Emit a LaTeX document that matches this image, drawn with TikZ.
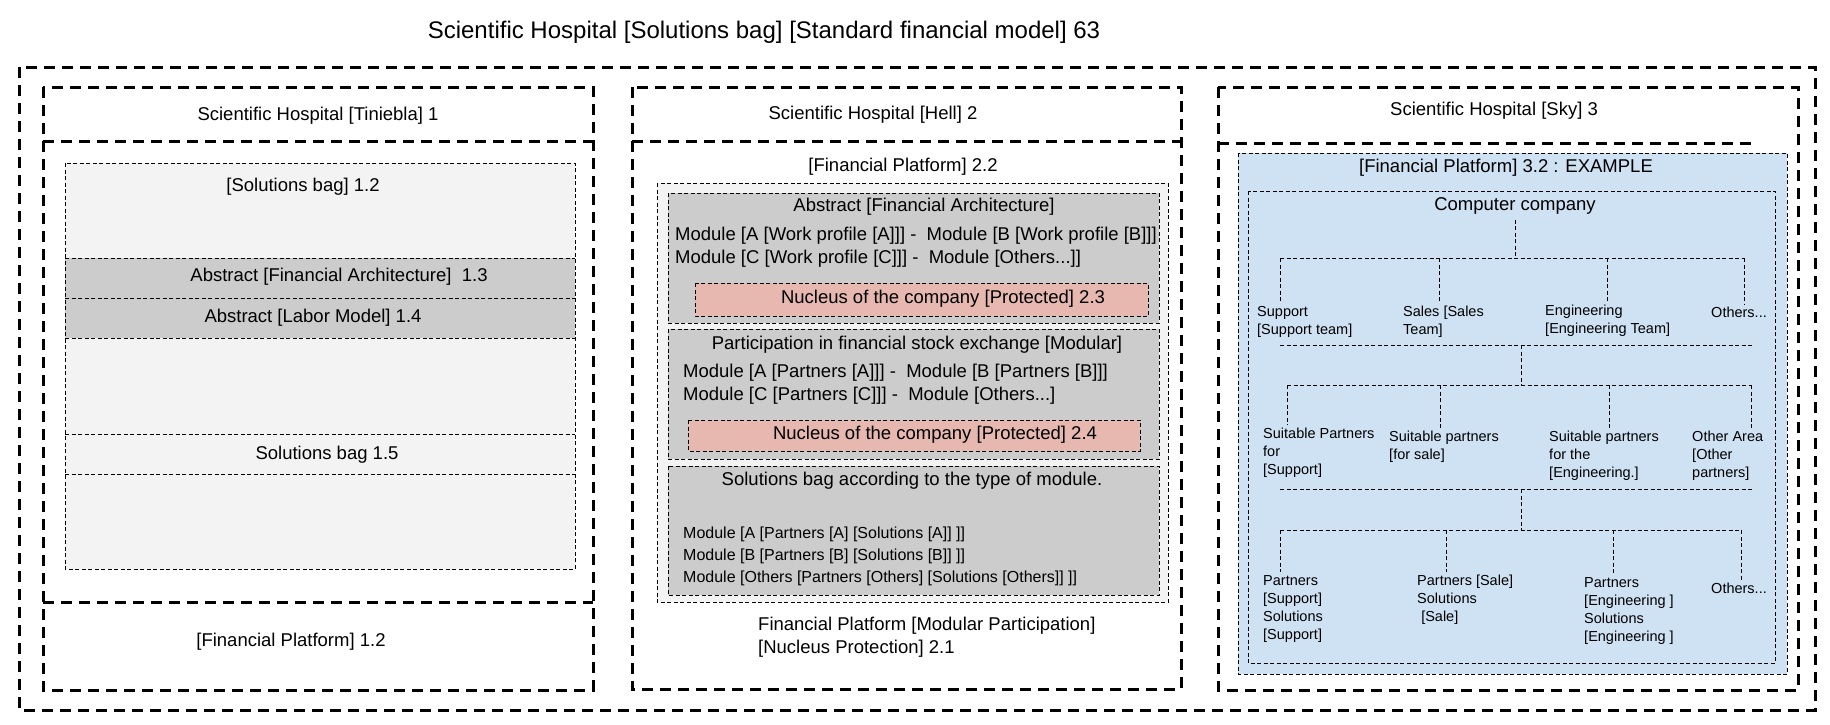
\documentclass[tikz,border=0pt]{standalone}
\usepackage{fontspec}
\setmainfont{Liberation Sans}
\usepackage{tikz}

\definecolor{lightbag}{HTML}{F3F3F3}
\definecolor{darkbag}{HTML}{CCCCCC}
\definecolor{nucleus}{HTML}{E6B8AF}
\definecolor{sky}{HTML}{CFE2F3}

\begin{document}
\begin{tikzpicture}[x=1pt, y=-1pt,
		bigbox/.style={line width=3pt, dash pattern=on 11pt off 7pt},
		thinbox/.style={line width=0.8pt, dash pattern=on 4pt off 2.5pt},
		txt/.style={inner sep=0pt, font=\fontsize{18.5}{22}\selectfont},
		headtxt/.style={inner sep=0pt, font=\fontsize{24}{28}\selectfont},
		modtext/.style={inner sep=0pt, align=left, anchor=north west, font=\fontsize{18.5}{23}\selectfont},
		soltext/.style={inner sep=0pt, align=left, anchor=north west, font=\fontsize{16}{22}\selectfont},
		orgtext/.style={inner sep=0pt, align=left, anchor=north west, font=\fontsize{14.5}{18}\selectfont}]
		
		% fix the margins
		\useasboundingbox (0,0) rectangle (1830,724);
		
		% draw title and outer frame
		\node[headtxt] (main) at (764,32) {Scientific Hospital [Solutions bag] [Standard financial model] 63};
		\draw[bigbox] (19,67) rectangle (1815,710);
		
		% draw hospital 1
		\draw[bigbox] (43,87) rectangle (593,690);
		\draw[bigbox] (43,141) -- (593,141);
		\draw[bigbox] (43,602) -- (593,602);
		\node[txt] (tiniebla) at (318,116) {Scientific Hospital [Tiniebla] 1};
		
		\fill[lightbag] (65,163) rectangle (575,569);
		\fill[darkbag] (65,258) rectangle (575,338);
		\draw[thinbox] (65,163) rectangle (575,569);
		\foreach \y in {258,298,338,434,474}
		\draw[thinbox] (65,\y) -- (575,\y);
		
		\node[txt] (bag12) at (303,187) {[Solutions bag] 1.2};
		\node[txt] (abs13) at (339,277) {Abstract [Financial Architecture]\ \ 1.3};
		\node[txt] (abs14) at (313,318) {Abstract [Labor Model] 1.4};
		\node[txt] (bag15) at (327,455) {Solutions bag 1.5};
		\node[txt] (plat12) at (291,642) {[Financial Platform] 1.2};
		
		% draw hospital 2
		\draw[bigbox] (632,87) rectangle (1181,689);
		\draw[bigbox] (632,141) -- (1181,141);
		\node[txt] (hell) at (873,115) {Scientific Hospital [Hell] 2};
		\node[txt] (plat22) at (903,167) {[Financial Platform] 2.2};
		
		\draw[thinbox, fill=lightbag] (657,183) rectangle (1168,602);
		\foreach \ya/\yb in {193/323, 329/459, 466/595}
		\draw[thinbox, fill=darkbag] (668,\ya) rectangle (1159,\yb);
		
		\node[txt] (absfin) at (924,207) {Abstract [Financial Architecture]};
		\node[modtext] (work) at (675,227) {Module [A [Work profile [A]]] -\ \ Module [B [Work profile [B]]]\\Module [C [Work profile [C]]] -\ \ Module [Others...]]};
		\draw[thinbox, fill=nucleus] (695,283) rectangle (1148,316);
		\node[txt] (nuc23) at (943,299) {Nucleus of the company [Protected] 2.3};
		
		\node[txt] (stock) at (917,345) {Participation in financial stock exchange [Modular]};
		\node[modtext] (partners) at (683,364) {Module [A [Partners [A]]] -\ \ Module [B [Partners [B]]]\\Module [C [Partners [C]]] -\ \ Module [Others...]};
		\draw[thinbox, fill=nucleus] (688,420) rectangle (1140,451);
		\node[txt] (nuc24) at (935,435) {Nucleus of the company [Protected] 2.4};
		
		\node[txt] (bytype) at (912,481) {Solutions bag according to the type of module.};
		\node[soltext] (sols) at (683,527) {Module [A [Partners [A] [Solutions [A]] ]]\\Module [B [Partners [B] [Solutions [B]] ]]\\Module [Others [Partners [Others] [Solutions [Others]] ]]};
		
		\node[modtext] (plat21) at (758,617) {Financial Platform [Modular Participation]\\{}[Nucleus Protection] 2.1};
		
		% draw hospital 3
		\draw[bigbox] (1218,87) rectangle (1798,690);
		\draw[bigbox] (1218,143) -- (1758,143);
		\node[txt] (sky) at (1494,111) {Scientific Hospital [Sky] 3};
		
		\draw[thinbox, fill=sky] (1238,153) rectangle (1787,674);
		\node[txt] (plat32) at (1506,168) {[Financial Platform] 3.2 : EXAMPLE};
		\draw[thinbox] (1248,191) rectangle (1775,663);
		\node[txt] (company) at (1515,206) {Computer company};
		
		% teams
		\node[orgtext] (support) at (1257,306) {Support\\{}[Support team]};
		\node[orgtext] (sales) at (1403,306) {Sales [Sales\\Team]};
		\node[orgtext] (engineering) at (1545,305) {Engineering\\{}[Engineering Team]};
		\node[orgtext] (others1) at (1711,307) {Others...};
		
		% suitable partners
		\node[orgtext] (suitsupport) at (1263,428) {Suitable Partners\\for\\{}[Support]};
		\node[orgtext] (suitsale) at (1389,431) {Suitable partners\\{}[for sale]};
		\node[orgtext] (suiteng) at (1549,431) {Suitable partners\\for the\\{}[Engineering.]};
		\node[orgtext] (otherarea) at (1692,431) {Other Area\\{}[Other\\partners]};
		
		% partners and solutions
		\node[orgtext] (partsupport) at (1263,575) {Partners\\{}[Support]\\Solutions\\{}[Support]};
		\node[orgtext] (partsale) at (1417,575) {Partners [Sale]\\Solutions\\\ [Sale]};
		\node[orgtext] (parteng) at (1584,577) {Partners\\{}[Engineering ]\\Solutions\\{}[Engineering ]};
		\node[orgtext] (others3) at (1711,583) {Others...};
		
		% draw tree lines
		\coordinate (stem1) at (1515,258);
		\coordinate (sep2) at (1521,345);
		\coordinate (stem2) at (1521,385);
		\coordinate (sep3) at (1521,489);
		\coordinate (stem3) at (1521,530);
		
		\draw[thinbox] (company.south) ++(0,5) -- (stem1);
		\draw[thinbox] (1280,258) -- (1744,258);
		\foreach \x/\n in {1280/support, 1439/sales, 1607/engineering, 1744/others1}
		\draw[thinbox, shorten >=3pt] (\x,258) -- (\x,0 |- \n.north);
		
		\draw[thinbox] (1280,345) -- (1753,345);
		\draw[thinbox] (sep2) -- (stem2);
		\draw[thinbox] (1287,385) -- (1751,385);
		\foreach \x/\n in {1287/suitsupport, 1440/suitsale, 1609/suiteng, 1751/otherarea}
		\draw[thinbox, shorten >=3pt] (\x,385) -- (\x,0 |- \n.north);
		
		\draw[thinbox] (1280,489) -- (1753,489);
		\draw[thinbox] (sep3) -- (stem3);
		\draw[thinbox] (1280,530) -- (1741,530);
		\foreach \x/\n in {1280/partsupport, 1446/partsale, 1613/parteng, 1741/others3}
		\draw[thinbox, shorten >=3pt] (\x,530) -- (\x,0 |- \n.north);
		
	\end{tikzpicture}
\end{document}
